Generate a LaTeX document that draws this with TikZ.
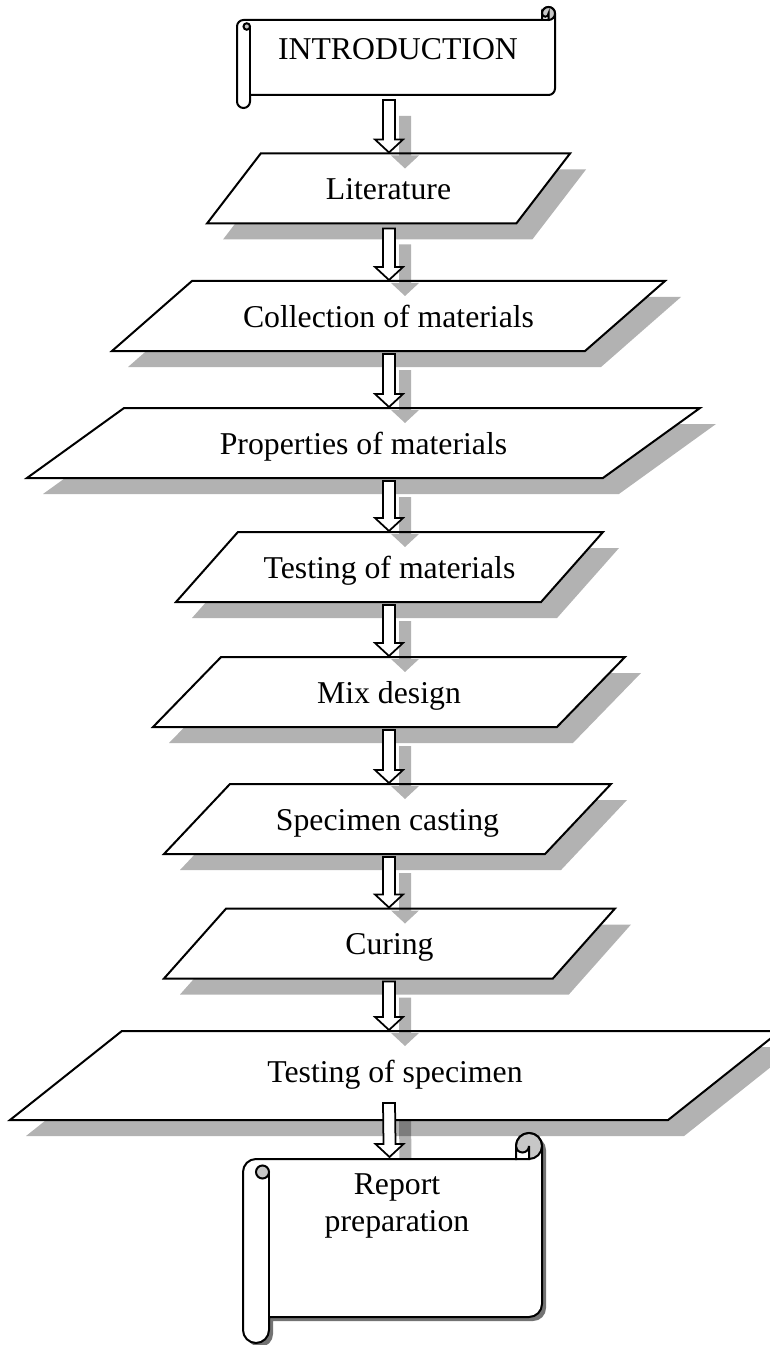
\documentclass[tikz,border=0pt]{standalone}
\usepackage{fontspec}
\setmainfont{Liberation Serif}
\usetikzlibrary{shapes.geometric,shadows,calc}

\tikzset{
  flowbox/.style={trapezium, trapezium stretches body, draw, fill=white,
    line width=0.8pt, inner sep=0pt, text height=18.4pt, text depth=9.6pt,
    drop shadow={shadow xshift=6.4pt, shadow yshift=-6.4pt, fill=black, opacity=0.3}},
  boxsize/.style n args={3}{minimum width=#1*0.4pt,
    trapezium left angle=#2, trapezium right angle=#3},
  arrowbody/.style={draw, fill=white, line width=0.7pt},
  arrowshadow/.style={fill=black, fill opacity=0.3},
  rollgray/.style={draw, line width=0.8pt, fill=black!22},
}

% scroll: left, top, right, bottom, roll size, shadow offset
\newcommand{\scrollshape}[6]{%
  \pgfmathsetmacro{\rollh}{#5/2}
  \pgfmathsetmacro{\rollq}{#5/4}
  \def\scrollpath{(#1,#2+1.5*#5) arc[start angle=180, end angle=270, radius=\rollh]
    -- (#3-#5,#2+#5) -- (#3-#5,#2+\rollh) arc[start angle=180, end angle=360, radius=\rollh]
    -- (#3,#4-#5-\rollh) arc[start angle=0, end angle=90, radius=\rollh]
    -- (#1+#5,#4-#5) -- (#1+#5,#4-\rollh) arc[start angle=0, end angle=180, radius=\rollh] -- cycle}
  \fill[black!55, shift={(#6,#6)}] \scrollpath;
  \filldraw[fill=white, line width=0.8pt] \scrollpath;
  % curl at the top right
  \filldraw[rollgray] (#3-\rollh,#2+\rollh) circle[radius=\rollh];
  \filldraw[fill=white, line width=0.8pt] (#3-#5,#2+#5) -- (#3-#5,#2+\rollh)
    arc[start angle=180, end angle=0, radius=\rollq] -- (#3-\rollh,#2+#5) -- cycle;
  % roll at the left
  \filldraw[rollgray] (#1+0.75*#5,#2+1.5*#5) circle[radius=\rollq];
  \draw[line width=0.8pt] (#1+#5,#2+1.5*#5) -- (#1+#5,#4-#5);
}

% block arrow with its shadow: from, to
\newcommand{\blockarrow}[2]{%
  \path (#1) coordinate (ba-s) (#2) coordinate (ba-e);
  \fill[arrowshadow] ($(ba-s)+(10,16)$) -- ($(ba-e)+(10,3)$) -- ($(ba-e)+(2,3)$)
    -- ($(ba-e)+(16,16)$) -- ($(ba-e)+(30,3)$) -- ($(ba-e)+(22,3)$) -- ($(ba-s)+(22,16)$) -- cycle;
  \draw[arrowbody] ($(ba-s)+(-6,0)$) -- ($(ba-e)+(-6,-13)$) -- ($(ba-e)+(-14,-13)$)
    -- (ba-e) -- ($(ba-e)+(14,-13)$) -- ($(ba-e)+(6,-13)$) -- ($(ba-s)+(6,0)$) -- cycle;
}

\begin{document}
\begin{tikzpicture}[x=0.4pt, y=-0.4pt, font=\fontsize{12.7}{14.8}\selectfont]
  \fill[white] (0,0) rectangle (770,1345);
  \useasboundingbox (0,0) rectangle (770,1345);
  \coordinate (col) at (389,0);

  % Start
  \scrollshape{237}{7}{555}{108}{13}{0}
  \node[anchor=base] (intro) at (398,60) {INTRODUCTION};
  \coordinate (intro-out) at (389,100);

  % Steps
  \node[flowbox, boxsize={363}{52.5}{127.5}] (lit) at (388.5,188.5) {Literature};
  \node[flowbox, boxsize={553}{41.2}{138.8}] (coll) at (388.5,316) {Collection of materials};
  \node[flowbox, boxsize={673}{35.8}{144.2}] (prop) at (363.5,443) {Properties of materials};
  \node[flowbox, boxsize={427}{48.5}{131.5}] (testmat) at (389.5,567) {Testing of materials};
  \node[flowbox, boxsize={472}{45.8}{134.2}] (mix) at (389,692) {Mix design};
  \node[flowbox, boxsize={447}{46.7}{133.3}] (cast) at (387.5,819) {Specimen casting};
  \node[flowbox, boxsize={451}{48.4}{131.6}] (cure) at (389.5,943.5) {Curing};
  \node[flowbox, boxsize={770}{38.5}{141.5}, text height=20.4pt, text depth=15.2pt]
    (testspec) at (395,1075.5) {Testing of specimen};

  % Arrows
  \coordinate (report-in) at (389.5,1157);
  \blockarrow{intro-out}{col |- lit.top side}
  \blockarrow{$(col |- lit.bottom side)+(0,4)$}{col |- coll.top side}
  \blockarrow{$(col |- coll.bottom side)+(0,2)$}{col |- prop.top side}
  \blockarrow{$(col |- prop.bottom side)+(0,2)$}{col |- testmat.top side}
  \blockarrow{$(col |- testmat.bottom side)+(0,2)$}{col |- mix.top side}
  \blockarrow{$(col |- mix.bottom side)+(0,2)$}{col |- cast.top side}
  \blockarrow{$(col |- cast.bottom side)+(0,2)$}{col |- cure.top side}
  \blockarrow{$(col |- cure.bottom side)+(0,2)$}{col |- testspec.top side}
  \blockarrow{$(col |- testspec.bottom side)+(0,-18)$}{report-in}

  % End
  \scrollshape{243}{1133}{542}{1343}{26}{4}
  \node[align=center] (report) at (397,1206) {Report\\preparation};
\end{tikzpicture}
\end{document}
